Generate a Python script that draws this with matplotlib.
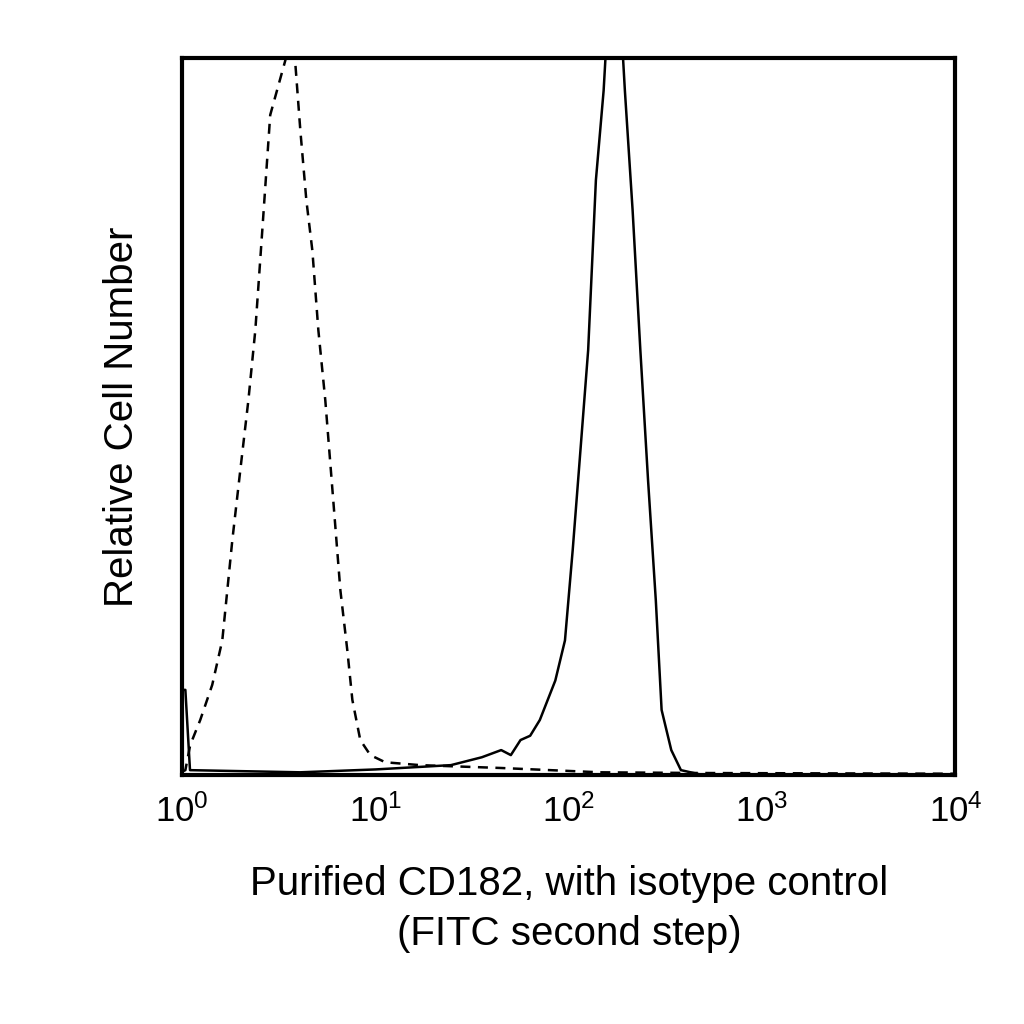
import numpy as np
import matplotlib.pyplot as plt

plt.rcParams['font.family'] = ['Liberation Sans', 'DejaVu Sans']

# isotype control (dashed), x as log10 intensity, y as % of axis height
iso_logx = [0.0, 0.016, 0.041, 0.093, 0.155, 0.207, 0.259, 0.300, 0.342, 0.378, 0.414, 0.455,
            0.497, 0.533, 0.569, 0.611, 0.642, 0.673, 0.704, 0.740, 0.781, 0.818, 0.854,
            0.880, 0.921, 0.973, 1.05, 1.23, 1.65, 2.16, 2.68, 4.0]
iso_y = [0.5, 0.7, 4.2, 7.7, 12.6, 18.8, 32.8, 42.5, 52.3, 62.1, 76.0, 92.1,
         96.2, 99.7, 105, 89.9, 80.2, 73.2, 62.1, 52.3, 38.4, 25.8, 17.4,
         10.5, 4.9, 2.8, 1.8, 1.4, 1.0, 0.4, 0.3, 0.2]

# CD182 stained (solid)
cd_logx = [0.0, 0.016, 0.04, 0.61, 1.0, 1.39, 1.55, 1.65, 1.70, 1.75, 1.80, 1.85, 1.93, 1.98,
           2.02, 2.06, 2.10, 2.14, 2.18, 2.20, 2.27, 2.29, 2.33, 2.37, 2.41, 2.45, 2.48,
           2.53, 2.58, 2.68, 3.72, 4.0]
cd_y = [11.9, 11.9, 0.7, 0.4, 0.8, 1.4, 2.5, 3.5, 2.8, 4.9, 5.5, 7.7, 13.2, 18.8,
        31.4, 45.3, 59.3, 83.0, 95.5, 105, 105, 95.5, 78.8, 59.3, 41.1, 24.4, 9.1,
        3.5, 0.7, 0.1, 0.1, 0.1]

fig = plt.figure(figsize=(10.24, 10.24), dpi=100)
ax = fig.add_axes([0.178, 0.243, 0.755, 0.700])

ax.plot(10 ** np.array(iso_logx), iso_y, color="black", lw=1.8, ls=(0, (4, 3)))
ax.plot(10 ** np.array(cd_logx), cd_y, color="black", lw=1.8)

ax.set_xscale("log")
ax.set_xlim(1, 1e4)
ax.set_ylim(0, 100)
ax.set_yticks([])
ax.set_xticks([1, 10, 100, 1000, 10000])
ax.minorticks_off()
ax.tick_params(axis="x", length=0, pad=14, labelsize=25)
for s in ax.spines.values():
    s.set_linewidth(3)

ax.set_ylabel("Relative Cell Number", fontsize=29, labelpad=30)
ax.set_xlabel("Purified CD182, with isotype control\n(FITC second step)",
              fontsize=29, labelpad=26, linespacing=1.4)

plt.savefig("out.png")
